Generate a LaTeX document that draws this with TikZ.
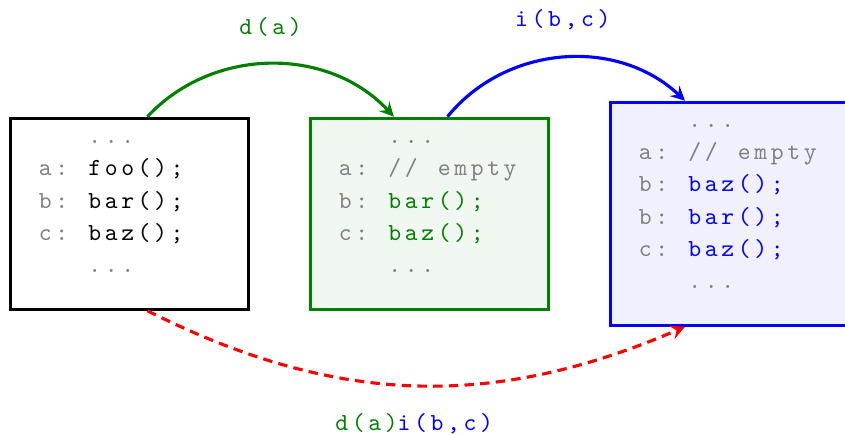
\documentclass[tikz,border=0pt]{standalone}
\usepackage{fontspec}
\usetikzlibrary{positioning}
\newfontfamily\codefont{lmmono10-regular}[Extension=.otf,LetterSpace=14.8]
\newcommand\codesp{\hspace*{6.4pt}}
\colorlet{codegreen}{green!50!black}
\colorlet{codegray}{black!50}
\begin{document}
\begin{tikzpicture}[>=stealth,font=\codefont\fontsize{7.8}{10.3}\selectfont,
	codebox/.style={draw,line width=1pt,text width=57.75pt,align=left,inner xsep=9.1pt,minimum height=2.137cm},
	edit/.style={->,line width=1pt}
	]
	%	\draw[thin,gray!50,step=1cm] (0,0) grid (9.5,-5);
	\useasboundingbox (0,0) rectangle (9.458,-4.858);
	
	\node[codebox] (src) at (1.450,-2.392) {\phantom{a:\codesp}\textcolor{codegray}{...}\\
		\textcolor{codegray}{a:}\codesp foo();\\
		\textcolor{codegray}{b:}\codesp bar();\\
		\textcolor{codegray}{c:}\codesp baz();\\
		\phantom{a:\codesp}\textcolor{codegray}{...}\rule[-7pt]{0pt}{7pt}};
	\node[codebox,draw=codegreen,fill=codegreen!6,right=0.654cm of src] (del) {\phantom{a:\codesp}\textcolor{codegray}{...}\\
		\textcolor{codegray}{a:\codesp//\codesp empty}\\
		\textcolor{codegray}{b:}\codesp\textcolor{codegreen}{bar();}\\
		\textcolor{codegray}{c:}\codesp\textcolor{codegreen}{baz();}\\
		\phantom{a:\codesp}\textcolor{codegray}{...}\rule[-7pt]{0pt}{7pt}};
	\node[codebox,draw=blue,fill=blue!6,minimum height=2.495cm,right=0.654cm of del] (ins) {\phantom{a:\codesp}\textcolor{codegray}{...}\\
		\textcolor{codegray}{a:\codesp//\codesp empty}\\
		\textcolor{codegray}{b:}\codesp\textcolor{blue}{baz();}\\
		\textcolor{codegray}{b:}\codesp\textcolor{blue}{bar();}\\
		\textcolor{codegray}{c:}\codesp\textcolor{blue}{baz();}\\
		\phantom{a:\codesp}\textcolor{codegray}{...}\rule[-7pt]{0pt}{7pt}};
	
	\draw[edit,codegreen] ([xshift=2mm]src.north) to[bend left=47] node[above=5pt]{d(a)} ([xshift=-4mm]del.north);
	\draw[edit,blue] ([xshift=2mm]del.north) to[bend left=47] node[above=5pt]{i(b,c)} ([xshift=-5mm]ins.north);
	\draw[edit,red,dash pattern=on 3pt off 2pt] ([xshift=2mm]src.south) to[bend right=25] node[below=5pt]{\textcolor{codegreen}{d(a)}\textcolor{blue}{i(b,c)}} ([xshift=-5mm]ins.south);
\end{tikzpicture}
\end{document}
